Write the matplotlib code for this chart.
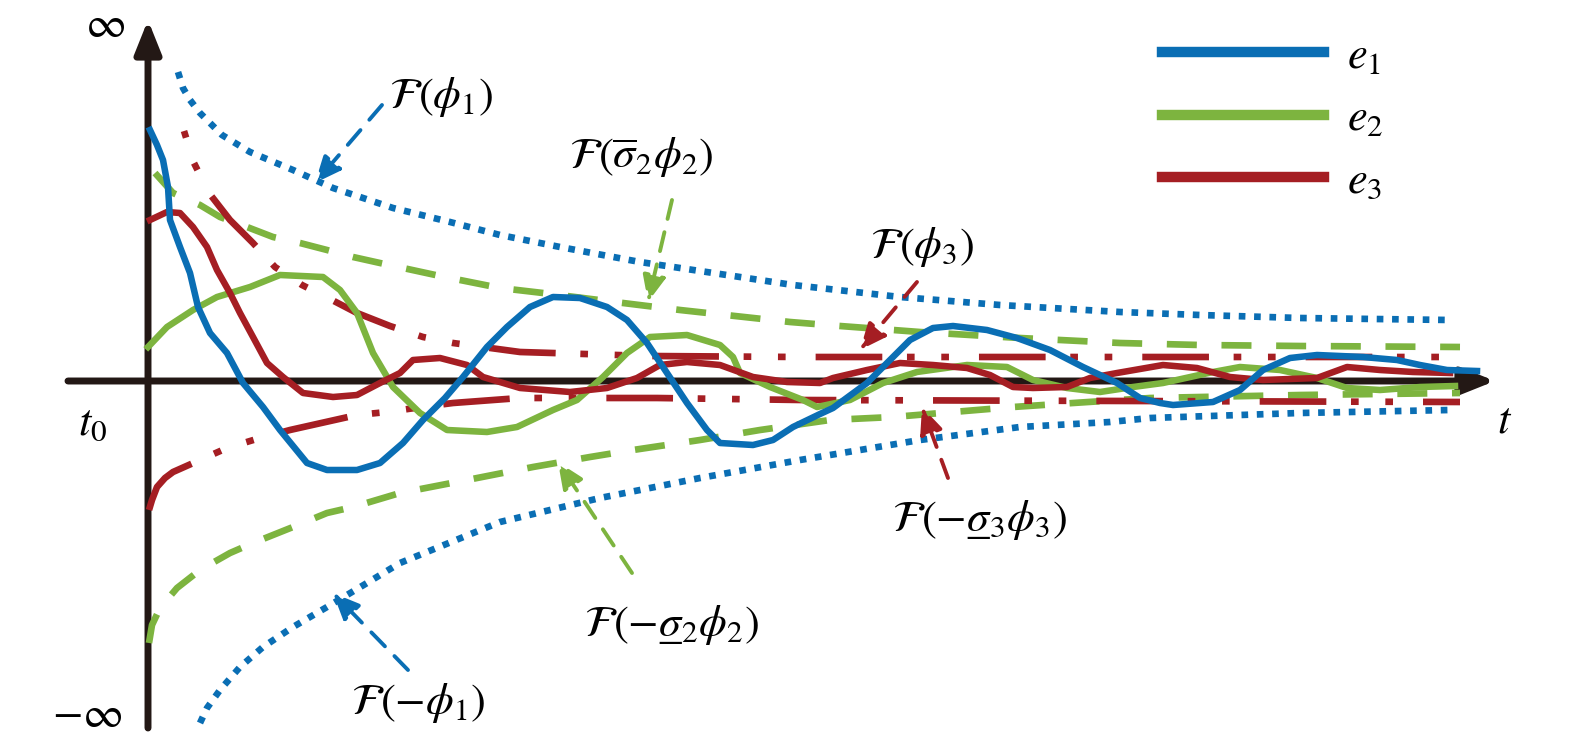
import matplotlib
matplotlib.use("Agg")
import matplotlib.pyplot as plt
from matplotlib.lines import Line2D

plt.rcParams["mathtext.fontset"] = "stix"
plt.rcParams["font.family"] = ["STIXGeneral", "DejaVu Sans"]

BLUE = "#0A6EB4"
GREEN = "#7DB43F"
RED = "#A51E23"
AXIS = "#231815"

# --- error trajectories (t, e) ---
e1_t = [2, 9, 15, 20, 22, 32, 42, 50, 62, 79, 95, 115, 132, 159, 179, 209, 232, 255, 275, 297,
        315, 339, 359, 382, 405, 432, 459, 479, 499, 519, 539, 559, 572, 605, 625, 645, 672, 685,
        719, 739, 762, 785, 805, 839, 869, 902, 935, 969, 992, 1012, 1025, 1065, 1092, 1115, 1142,
        1169, 1215, 1249, 1272, 1299, 1329]
e1_v = [251, 236, 221, 194, 161, 134, 108, 74, 48, 28, -2, -26, -49, -82, -89, -89, -82, -62, -39, -17,
        4, 34, 54, 74, 84, 83, 74, 61, 38, 8, -22, -49, -62, -64, -59, -46, -33, -27,
        -2, 18, 41, 53, 55, 51, 43, 31, 14, -2, -17, -22, -24, -21, -9, 11, 23,
        26, 24, 21, 16, 11, 10]

e2_t = [0, 19, 45, 69, 102, 132, 175, 192, 209, 225, 245, 272, 299, 339, 369, 405, 429, 455, 479, 502,
        539, 572, 585, 592, 622, 655, 669, 702, 735, 769, 819, 859, 885, 919, 952, 985, 1015, 1065,
        1092, 1132, 1169, 1199, 1232, 1272, 1307]
e2_v = [34, 54, 71, 84, 94, 106, 104, 91, 68, 28, -6, -32, -49, -51, -46, -29, -19, 4, 28, 44,
        46, 36, 24, 8, -6, -19, -26, -19, -2, 9, 16, 14, 1, -7, -11, -6, -2, 9,
        14, 11, 3, -7, -9, -6, -5]

e3_t = [2, 19, 32, 45, 59, 69, 82, 92, 105, 119, 135, 155, 185, 209, 232, 252, 265, 292, 319, 335,
        372, 422, 459, 489, 512, 539, 572, 605, 639, 672, 685, 719, 752, 785, 819, 842, 865, 885,
        919, 942, 969, 1015, 1049, 1082, 1115, 1169, 1199, 1232, 1265, 1302]
e3_v = [161, 169, 168, 154, 134, 111, 88, 68, 44, 18, 4, -12, -16, -14, -2, 8, 21, 23, 16, 4,
        -7, -11, -7, 3, 16, 19, 16, 4, -1, -2, 3, 11, 18, 16, 13, 6, -6, -7,
        -6, 3, 8, 16, 13, 4, 1, 3, 14, 11, 9, 8]

# --- performance bounds ---
b1_up_t = [30, 35, 42, 52, 74, 102, 145, 185, 245, 302, 352, 412, 492, 572, 645, 752, 852, 972, 1052, 1152, 1302]
b1_up_v = [309, 293, 281, 268, 246, 229, 211, 193, 173, 159, 146, 134, 119, 107, 96, 84, 76, 69, 66, 63, 61]
b1_lo_t = [52, 59, 72, 92, 115, 145, 179, 219, 252, 352, 452, 552, 652, 772, 872, 962, 1002, 1152, 1302]
b1_lo_v = [-342, -327, -309, -286, -266, -246, -226, -202, -182, -141, -117, -97, -79, -59, -46, -41, -37, -32, -29]

b2_up_t = [7, 25, 52, 72, 99, 125, 152, 179, 205, 232, 292, 352, 395, 475, 532, 642, 692, 772, 872, 972, 1052, 1152, 1312]
b2_up_v = [208, 188, 176, 164, 154, 144, 138, 131, 124, 118, 105, 93, 88, 78, 71, 59, 55, 49, 43, 38, 36, 35, 34]
b2_lo_t = [1, 4, 12, 29, 52, 82, 105, 145, 179, 205, 252, 319, 385, 442, 485, 552, 612, 682, 745, 805, 865, 925, 1002, 1152, 1312]
b2_lo_v = [-262, -244, -227, -207, -189, -172, -162, -146, -132, -126, -112, -99, -86, -76, -69, -59, -49, -39,
           -36, -31, -26, -22, -17, -14, -12]

b3_up_t = [36, 46, 61, 82, 105, 127, 154, 184, 209, 242, 275, 305, 372, 502, 652, 1312]
b3_up_v = [250, 218, 188, 161, 138, 114, 96, 81, 68, 55, 44, 38, 29, 25, 24, 24]
b3_lo_t = [1, 4, 9, 17, 25, 52, 79, 112, 142, 209, 239, 274, 305, 372, 509, 652, 1312]
b3_lo_v = [-129, -119, -106, -97, -91, -79, -67, -57, -49, -34, -31, -26, -22, -17, -17, -19, -21]

# --- annotations: label, label position, arrow tail, arrow tip, colour ---
notes = [
    (r"$\mathcal{F}(\phi_1)$", (293, 284), (234, 276), (167, 198), BLUE),
    (r"$\mathcal{F}(\overline{\sigma}_2\phi_2)$", (493, 224), (524, 181), (500, 79), GREEN),
    (r"$\mathcal{F}(\phi_3)$", (774, 134), (769, 99), (712, 31), RED),
    ("$\\mathcal{F}(-\\sigma\u0332_3\\phi_3)$", (831, -139), (800, -97), (774, -26), RED),
    ("$\\mathcal{F}(-\\sigma\u0332_2\\phi_2)$", (523, -244), (484, -192), (410, -81), GREEN),
    (r"$\mathcal{F}(-\phi_1)$", (270, -322), (260, -289), (185, -212), BLUE),
]

fig = plt.figure(figsize=(15.75, 7.51), dpi=100)
ax = fig.add_axes([0, 0, 1, 1])
ax.set_xlim(-148, 1427)
ax.set_ylim(-370, 381)
ax.axis("off")

FS = 32

# axes with arrow heads
ax.annotate("", xy=(0, 361), xytext=(0, -347),
            arrowprops=dict(arrowstyle="-|>,head_length=20,head_width=8", mutation_scale=1,
                            lw=5, color=AXIS, shrinkA=0, shrinkB=0), zorder=1)
ax.annotate("", xy=(1347, 0), xytext=(-80, 0),
            arrowprops=dict(arrowstyle="-|>,head_length=20,head_width=8", mutation_scale=1,
                            lw=5, color=AXIS, shrinkA=0, shrinkB=0), zorder=1)

dot = (0, (1.0, 1.3))
dash = (0, (4.5, 3.7))
dashdot_up = (13.8, (10.0, 3.7, 1.15, 4.0, 1.15, 4.5))
dashdot_lo = (0, (10.0, 3.7, 1.15, 4.0, 1.15, 4.5))

ax.plot(b1_up_t, b1_up_v, color=BLUE, lw=4.8, ls=dot, zorder=2)
ax.plot(b1_lo_t, b1_lo_v, color=BLUE, lw=4.8, ls=dot, zorder=2)
ax.plot(b2_up_t, b2_up_v, color=GREEN, lw=4.8, ls=dash, zorder=2)
ax.plot(b2_lo_t, b2_lo_v, color=GREEN, lw=4.8, ls=dash, zorder=2)
ax.plot(b3_up_t, b3_up_v, color=RED, lw=4.8, ls=dashdot_up, zorder=2)
ax.plot(b3_lo_t, b3_lo_v, color=RED, lw=4.8, ls=dashdot_lo, zorder=2)

ax.plot(e2_t, e2_v, color=GREEN, lw=4.7, zorder=3, solid_joinstyle="round")
ax.plot(e3_t, e3_v, color=RED, lw=4.7, zorder=3, solid_joinstyle="round")
ax.plot(e1_t, e1_v, color=BLUE, lw=4.7, zorder=4, solid_joinstyle="round")

for label, pos, tail, tip, col in notes:
    ax.text(pos[0], pos[1], label, fontsize=FS, ha="center", va="center")
    ax.annotate("", xy=tip, xytext=tail,
                arrowprops=dict(arrowstyle="-|>,head_length=16,head_width=7", mutation_scale=1,
                                lw=2.8, ls=(0, (5, 3.5)), color=col, shrinkA=0, shrinkB=0),
                zorder=5)

ax.text(-43, 354, r"$\infty$", fontsize=FS, ha="center", va="center")
ax.text(-61, -336, r"$-\infty$", fontsize=FS, ha="center", va="center")
ax.text(-55, -44, r"$t_0$", fontsize=FS, ha="center", va="center")
ax.text(1357, -41, r"$t$", fontsize=FS, ha="center", va="center")

handles = [Line2D([], [], color=c, lw=7.5) for c in (BLUE, GREEN, RED)]
ax.legend(handles, [r"$e_1$", r"$e_2$", r"$e_3$"], loc="upper left",
          bbox_to_anchor=(0.7375, 0.951), frameon=False, fontsize=FS,
          handlelength=3.65, handletextpad=0.52, labelspacing=0.5,
          borderpad=0, borderaxespad=0)

fig.savefig("out.png", dpi=100)
